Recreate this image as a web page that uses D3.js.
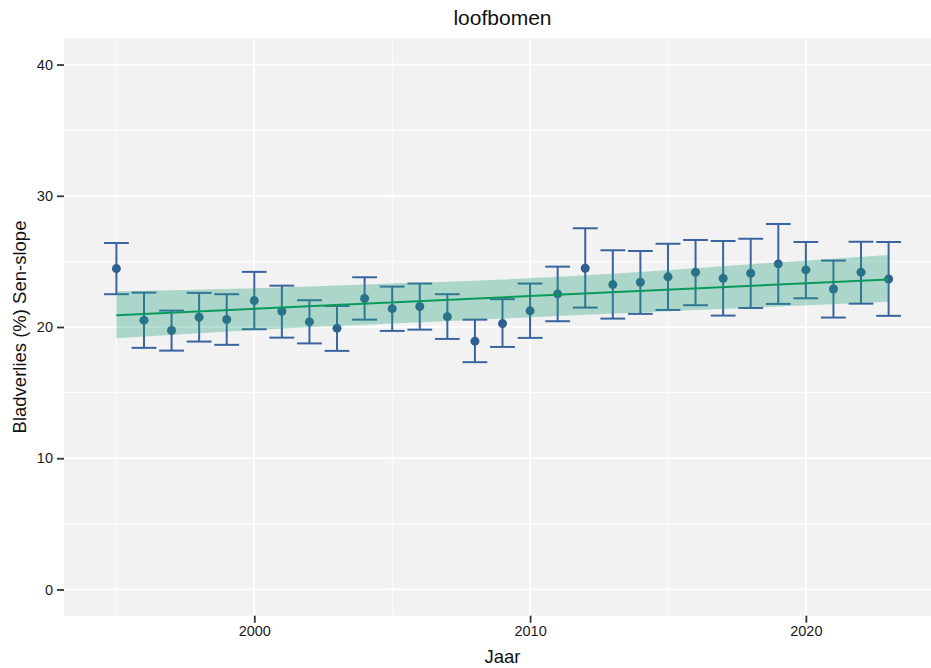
<!DOCTYPE html>
<html>
<head>
<meta charset="utf-8">
<script src="https://cdn.jsdelivr.net/npm/d3@7"></script>
<style>
  html, body { margin: 0; padding: 0; background: #ffffff; }
  svg { display: block; }
  text { font-family: "Liberation Sans", Arial, Helvetica, sans-serif; }
</style>
</head>
<body>
<svg id="chart" width="931" height="668"></svg>
<script>
// ---- data ----
const years = [1995,1996,1997,1998,1999,2000,2001,2002,2003,2004,2005,2006,2007,2008,2009,2010,2011,2012,2013,2014,2015,2016,2017,2018,2019,2020,2021,2022,2023];
const values = [24.45,20.52,19.73,20.75,20.57,22.01,21.20,20.39,19.91,22.17,21.40,21.56,20.79,18.92,20.26,21.23,22.52,24.48,23.23,23.41,23.82,24.17,23.71,24.10,24.81,24.35,22.90,24.17,23.66];
const lowers = [22.50,18.41,18.20,18.89,18.64,19.83,19.19,18.75,18.18,20.56,19.70,19.80,19.09,17.32,18.48,19.17,20.44,21.48,20.64,21.00,21.30,21.66,20.87,21.45,21.76,22.19,20.72,21.78,20.85];
const uppers = [26.40,22.62,21.25,22.60,22.50,24.20,23.15,22.04,21.60,23.79,23.08,23.31,22.50,20.56,22.12,23.31,24.60,27.52,25.85,25.80,26.35,26.63,26.56,26.73,27.85,26.48,25.06,26.50,26.48];
// Sen-slope trend and its band
const trendYears = [1995, 2023];
const trendValues = [20.90, 23.62];
const bandYears = [1995, 2000, 2004, 2009, 2014, 2018, 2023];
const bandLower = [19.15, 19.78, 20.17, 20.65, 21.11, 21.46, 21.93];
const bandUpper = [22.73, 22.95, 23.24, 23.62, 24.20, 24.78, 25.49];
const yTicks = [0, 10, 20, 30, 40];
const yMinor = [5, 15, 25, 35];
const xTicks = [2000, 2010, 2020];
const xMinor = [1995, 2005, 2015];
const title = "loofbomen";
const xLabel = "Jaar";
const yLabel = "Bladverlies (%) Sen-slope";

// ---- layout ----
const svg = d3.select("#chart");
const panel = { left: 64, top: 38.3, right: 941, bottom: 615.7 };
const x = d3.scaleLinear().domain([1993.1, 2024.9]).range([panel.left, panel.right]);
const y = d3.scaleLinear().domain([-2, 42]).range([panel.bottom, panel.top]);
const capHalf = 0.45;

const clip = svg.append("defs").append("clipPath").attr("id", "clip")
  .append("rect").attr("x", panel.left).attr("y", panel.top)
  .attr("width", panel.right - panel.left).attr("height", panel.bottom - panel.top);

svg.append("rect")
  .attr("x", panel.left).attr("y", panel.top)
  .attr("width", panel.right - panel.left).attr("height", panel.bottom - panel.top)
  .attr("fill", "#f2f2f2");

const grid = svg.append("g").attr("clip-path", "url(#clip)");
grid.selectAll(".ymin").data(yMinor).join("line")
  .attr("x1", panel.left).attr("x2", panel.right)
  .attr("y1", d => y(d)).attr("y2", d => y(d))
  .attr("stroke", "#ffffff").attr("stroke-width", 0.9);
grid.selectAll(".xmin").data(xMinor).join("line")
  .attr("y1", panel.top).attr("y2", panel.bottom)
  .attr("x1", d => x(d)).attr("x2", d => x(d))
  .attr("stroke", "#ffffff").attr("stroke-width", 0.9);
grid.selectAll(".ymaj").data(yTicks).join("line")
  .attr("x1", panel.left).attr("x2", panel.right)
  .attr("y1", d => y(d)).attr("y2", d => y(d))
  .attr("stroke", "#ffffff").attr("stroke-width", 1.8);
grid.selectAll(".xmaj").data(xTicks).join("line")
  .attr("y1", panel.top).attr("y2", panel.bottom)
  .attr("x1", d => x(d)).attr("x2", d => x(d))
  .attr("stroke", "#ffffff").attr("stroke-width", 1.8);

// ---- axes ----
const yAxis = d3.axisLeft(y).tickValues(yTicks).tickSize(7).tickPadding(4);
const gy = svg.append("g").attr("transform", `translate(${panel.left},0)`).call(yAxis);
gy.select(".domain").remove();
gy.selectAll(".tick line").attr("stroke", "#333333").attr("stroke-width", 1.8);
gy.selectAll(".tick text").attr("fill", "#1a1a1a").style("font-size", "14.5px");

const xAxis = d3.axisBottom(x).tickValues(xTicks).tickFormat(d3.format("d")).tickSize(7).tickPadding(3);
const gx = svg.append("g").attr("transform", `translate(0,${panel.bottom})`).call(xAxis);
gx.select(".domain").remove();
gx.selectAll(".tick line").attr("stroke", "#333333").attr("stroke-width", 1.8);
gx.selectAll(".tick text").attr("fill", "#1a1a1a").style("font-size", "14.5px");

// ---- marks ----
const data = years.map((yr, i) => ({ yr, v: values[i], lo: lowers[i], hi: uppers[i] }));
const marks = svg.append("g").attr("clip-path", "url(#clip)");
const ebColor = "#3a64a0";
marks.selectAll(".eb").data(data).join("line")
  .attr("x1", d => x(d.yr)).attr("x2", d => x(d.yr))
  .attr("y1", d => y(d.lo)).attr("y2", d => y(d.hi))
  .attr("stroke", ebColor).attr("stroke-width", 2);
marks.selectAll(".capt").data(data).join("line")
  .attr("x1", d => x(d.yr - capHalf)).attr("x2", d => x(d.yr + capHalf))
  .attr("y1", d => y(d.hi)).attr("y2", d => y(d.hi))
  .attr("stroke", ebColor).attr("stroke-width", 2);
marks.selectAll(".capb").data(data).join("line")
  .attr("x1", d => x(d.yr - capHalf)).attr("x2", d => x(d.yr + capHalf))
  .attr("y1", d => y(d.lo)).attr("y2", d => y(d.lo))
  .attr("stroke", ebColor).attr("stroke-width", 2);
marks.selectAll(".pt").data(data).join("circle")
  .attr("cx", d => x(d.yr)).attr("cy", d => y(d.v)).attr("r", 4.5)
  .attr("fill", "#2f5e92");

const band = bandYears.map((yr, i) => ({ yr, lo: bandLower[i], hi: bandUpper[i] }));
marks.append("path").datum(band)
  .attr("d", d3.area().x(d => x(d.yr)).y0(d => y(d.lo)).y1(d => y(d.hi)).curve(d3.curveMonotoneX))
  .attr("fill", "#1b9e77").attr("fill-opacity", 0.33);

const trend = trendYears.map((yr, i) => ({ yr, v: trendValues[i] }));
marks.append("path").datum(trend)
  .attr("d", d3.line().x(d => x(d.yr)).y(d => y(d.v)))
  .attr("fill", "none").attr("stroke", "#0b9a5c").attr("stroke-width", 2);

// ---- labels ----
const cx = (panel.left + panel.right) / 2;
svg.append("text").attr("x", cx).attr("y", 25).attr("text-anchor", "middle")
  .attr("fill", "#111111").style("font-size", "21px").text(title);
svg.append("text").attr("x", cx).attr("y", 663).attr("text-anchor", "middle")
  .attr("fill", "#111111").style("font-size", "18.5px").text(xLabel);
svg.append("text")
  .attr("transform", `translate(26,${(panel.top + panel.bottom) / 2}) rotate(-90)`)
  .attr("text-anchor", "middle").attr("fill", "#111111").style("font-size", "18.5px").text(yLabel);
</script>
</body>
</html>
